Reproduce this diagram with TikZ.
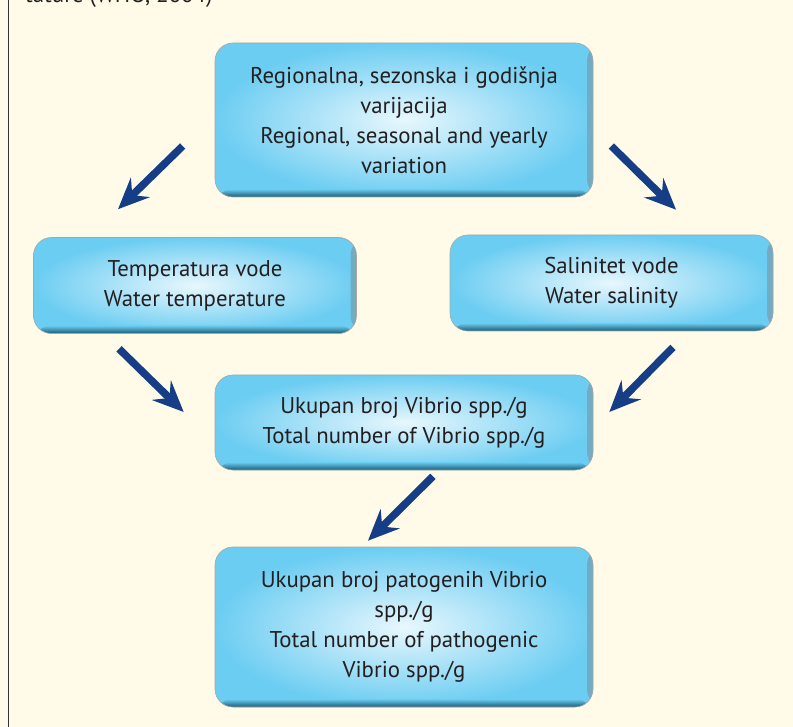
\documentclass[tikz,border=0pt]{standalone}
\usepackage{fontspec}
\setmainfont{PT Sans}
\usetikzlibrary{arrows.meta}

\definecolor{paper}{RGB}{255,251,232}
\definecolor{boxblue}{RGB}{108,205,242}
\definecolor{boxlight}{RGB}{232,247,253}
\definecolor{boxdark}{RGB}{24,92,118}
\definecolor{arrowblue}{RGB}{22,62,135}
\definecolor{textgray}{RGB}{35,31,32}

\tikzset{
		basic/.style  = {draw=black!35, line width=0.6pt, rectangle, rounded corners=18pt, align=center,
			text=textgray, font=\fontsize{22.8}{30}\selectfont, inner color=boxlight, outer color=boxblue,
			path picture={
				\shade[left color=boxblue!0, right color=boxdark!60, opacity=0.7]
					([xshift=-6pt]path picture bounding box.north east) rectangle (path picture bounding box.south east);
				\shade[top color=boxblue, bottom color=boxdark]
					([yshift=8pt]path picture bounding box.south west) rectangle (path picture bounding box.south east);
			}},
		wide/.style   = {basic, minimum width=378pt},
		narrow/.style = {basic, minimum width=323pt, minimum height=96pt},
		flow/.style   = {line width=7.5pt, draw=arrowblue, -{Stealth[length=31pt, width=27pt, inset=11pt]}}
	}

\begin{document}
\begin{tikzpicture}[x=1pt, y=-1pt]
		\clip (0,0) rectangle (793,727);
		\fill[paper] (0,0) rectangle (793,727);
		
		% frame of the figure and the cut caption above it
		\draw[black!80, line width=1.3pt] (8.5,-10) -- (8.5,740);
		\node[anchor=base west, text=textgray, font=\fontsize{22.8}{30}\selectfont, inner sep=0pt] (cap) at (25,3) {tature (WHO, 2004)};
		
		% boxes
		\node[wide, minimum height=154pt] (c0) at (404,120) {Regionalna, sezonska i godišnja\\ varijacija\\ Regional, seasonal and yearly\\ variation};
		\node[narrow] (c1) at (195,285.5) {Temperatura vode\\ Water temperature};
		\node[narrow] (c2) at (611.5,283) {Salinitet vode\\ Water salinity};
		\node[wide, minimum height=95pt] (c3) at (404,422.5) {Ukupan broj Vibrio spp./g\\ Total number of Vibrio spp./g};
		\node[wide, minimum height=160pt] (c4) at (404,627) {Ukupan broj patogenih Vibrio\\ spp./g\\ Total number of pathogenic\\ Vibrio spp./g};
		
		% free ends of the arrows, next to the boxes
		\coordinate (a1s) at ([shift={(-32,26)}]c0.west);
		\coordinate (a1e) at ([shift={(-77,-28)}]c1.north);
		\coordinate (a2s) at ([shift={(18,26)}]c0.east);
		\coordinate (a2e) at ([shift={(64.5,-25)}]c2.north);
		\coordinate (a3s) at ([shift={(-76,15)}]c1.south);
		\coordinate (a3e) at ([shift={(-31,-10.5)}]c3.west);
		\coordinate (a4s) at ([shift={(61.5,16)}]c2.south);
		\coordinate (a4e) at ([shift={(16,-10.5)}]c3.east);
		\coordinate (a5s) at ([shift={(29,6)}]c3.south);
		\coordinate (a5e) at ([shift={(-36,-6)}]c4.north);
		
		% arrows
		\foreach \value in {1,...,5}
		\draw[flow] (a\value s) -- (a\value e);
		
	\end{tikzpicture}
\end{document}
